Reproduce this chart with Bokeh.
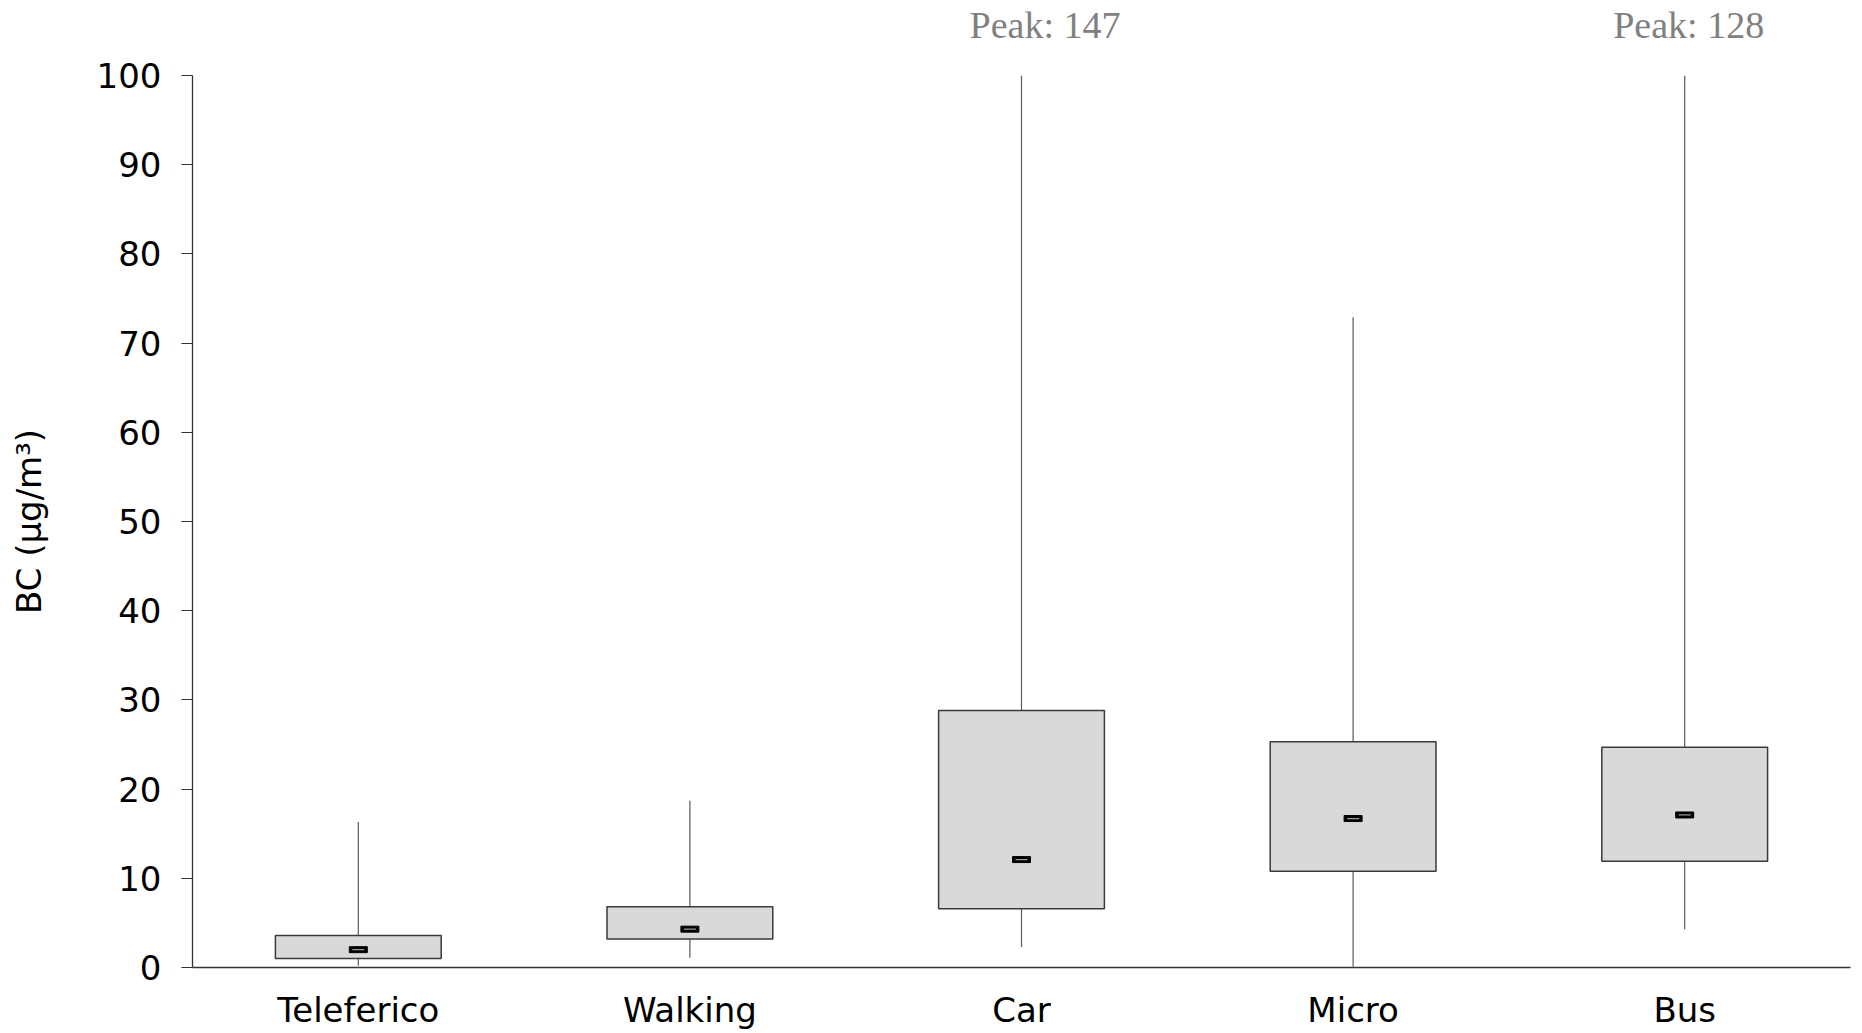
from bokeh.plotting import figure
from bokeh.models import ColumnDataSource, Range1d, FixedTicker, LinearAxis
from bokeh.embed import file_html
from bokeh.resources import INLINE

# ---- data ----
modes = ["Teleferico", "Walking", "Car", "Micro", "Bus"]
whisker_low = [0.2, 1.1, 2.3, 0.1, 4.3]
q1 = [1.0, 3.2, 6.6, 10.8, 11.9]
median = [2.0, 4.3, 12.1, 16.7, 17.1]
q3 = [3.6, 6.8, 28.8, 25.3, 24.7]
whisker_high = [16.3, 18.7, 147, 72.9, 128]
y_ticks = [0, 10, 20, 30, 40, 50, 60, 70, 80, 90, 100]
y_max = 100

# category slots on a numeric axis: slot i is centred at i + 0.5
slot = [i + 0.5 for i in range(len(modes))]
whisker_top = [min(h, y_max) for h in whisker_high]
src = ColumnDataSource(dict(x=slot, low=whisker_low, q1=q1, med=median,
                            q3=q3, top=whisker_top))

# peak notes for whiskers that run past the axis top
note_nudge = {"Car": 0.071, "Bus": 0.012}   # small sideways shift, in category widths
peak_pos, peak_txt = [], []
for s, m, h in zip(slot, modes, whisker_high):
    if h > y_max:
        peak_pos.append(round(s + note_nudge.get(m, 0.0), 3))
        peak_txt.append("Peak: %g" % h)

p = figure(x_range=Range1d(0, len(modes)), y_range=Range1d(0, y_max),
           width=1862, height=1033, output_backend="svg", toolbar_location=None,
           min_border_left=192, min_border_right=12, min_border_top=75, min_border_bottom=66)
p.outline_line_color = None
p.xgrid.grid_line_color = None
p.ygrid.grid_line_color = None
p.background_fill_color = "white"
p.border_fill_color = "white"

# whiskers
p.segment(x0="x", y0="low", x1="x", y1="top", source=src,
          line_color="#5a5a5a", line_width=1.2)
# boxes
p.vbar(x="x", width=0.5, bottom="q1", top="q3", source=src,
       fill_color="#d9d9d9", line_color="#3a3a3a", line_width=1.5)
# median markers
p.rect(x="x", y="med", width=18, height=6, width_units="screen", height_units="screen",
       source=src, fill_color="black", line_color="black", line_width=1)
p.rect(x="x", y="med", width=12, height=1.2, width_units="screen", height_units="screen",
       source=src, fill_color="#9a9a9a", line_color=None)

# x axis (bottom): category names at the slot centres
xa = p.below[0]
xa.ticker = FixedTicker(ticks=slot)
xa.major_label_overrides = {s: m for s, m in zip(slot, modes)}
xa.major_label_text_font = "DejaVu Sans"
xa.major_label_text_font_size = "34px"
xa.major_label_text_color = "black"
xa.major_label_standoff = 22
xa.major_tick_in = 0
xa.major_tick_out = 0
xa.major_tick_line_color = None
xa.minor_tick_line_color = None
xa.axis_line_color = "#333333"
xa.axis_line_width = 1.3

# peak notes drawn as an unlined axis above the frame
notes = LinearAxis(ticker=FixedTicker(ticks=peak_pos),
                   major_label_overrides={pos: t for pos, t in zip(peak_pos, peak_txt)})
notes.axis_line_color = None
notes.major_tick_line_color = None
notes.minor_tick_line_color = None
notes.major_tick_in = 0
notes.major_tick_out = 0
notes.major_label_standoff = 30
notes.major_label_text_font = "Liberation Serif"
notes.major_label_text_font_size = "38px"
notes.major_label_text_color = "#808080"
p.add_layout(notes, "above")

# y axis
ya = p.left[0]
ya.ticker = FixedTicker(ticks=y_ticks)
ya.axis_label = "BC (µg/m³)"
ya.axis_label_text_font = "DejaVu Sans"
ya.axis_label_text_font_style = "normal"
ya.axis_label_text_font_size = "34px"
ya.axis_label_text_color = "black"
ya.axis_label_standoff = 45
ya.major_label_text_font = "DejaVu Sans"
ya.major_label_text_font_size = "34px"
ya.major_label_text_color = "black"
ya.major_label_standoff = 20
ya.major_tick_in = 0
ya.major_tick_out = 11
ya.major_tick_line_color = "#333333"
ya.minor_tick_line_color = None
ya.axis_line_color = "#333333"
ya.axis_line_width = 1.3

open("out.html", "w").write(file_html(p, INLINE))
